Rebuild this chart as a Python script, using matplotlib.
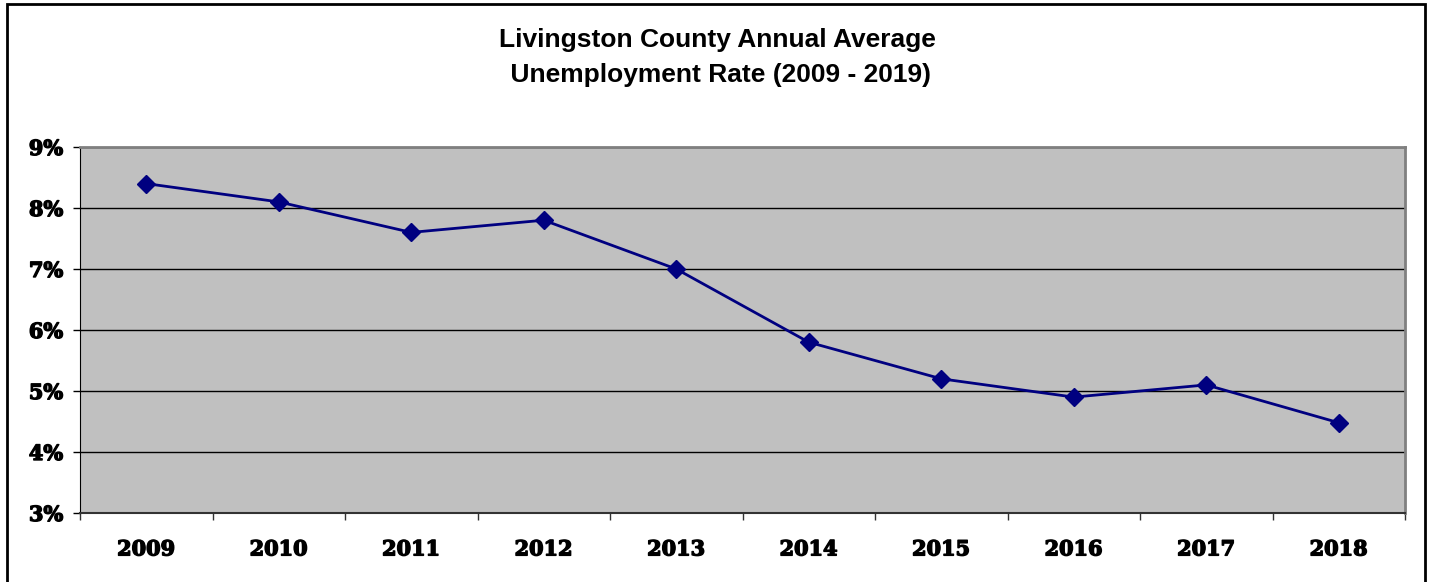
import matplotlib.pyplot as plt
import matplotlib.patheffects as pe
from matplotlib.patches import Rectangle
from matplotlib.ticker import FixedLocator, NullFormatter
import numpy as np

years = ['2009', '2010', '2011', '2012', '2013', '2014', '2015', '2016', '2017', '2018']
rates = [8.4, 8.1, 7.6, 7.8, 7.0, 5.8, 5.2, 4.9, 5.1, 4.48]
y_ticks = [3, 4, 5, 6, 7, 8, 9]
y_labels = ['3%', '4%', '5%', '6%', '7%', '8%', '9%']

W, H = 1431, 582
fig = plt.figure(figsize=(W / 100, H / 100), dpi=100)
fig.patch.set_facecolor('white')

# outer chart frame (bottom edge cut off in the original)
fig.patches.append(Rectangle((7 / W, -0.02), (1425 - 7) / W, 1.02 - 4 / H,
                             transform=fig.transFigure, fill=False,
                             edgecolor='black', linewidth=2))

ax = fig.add_axes([80 / W, (H - 513) / H, (1405 - 80) / W, (513 - 147) / H])
ax.set_facecolor('#C0C0C0')

x = np.arange(len(years))
ax.plot(x, rates, color='#000080', linewidth=2, marker='D', markersize=9,
        markerfacecolor='#000080', markeredgecolor='#000080', zorder=3)

ax.set_xlim(-0.5, len(years) - 0.5)
ax.set_ylim(3, 9)
ax.set_yticks(y_ticks)
ax.set_yticklabels(y_labels)
ax.yaxis.grid(True, color='black', linewidth=1)
ax.set_axisbelow(True)

# category labels centered, tick marks at boundaries
ax.set_xticks(x)
ax.set_xticklabels(years)
ax.tick_params(axis='x', which='major', length=0, pad=19)
ax.xaxis.set_minor_locator(FixedLocator(np.arange(-0.5, len(years), 1)))
ax.xaxis.set_minor_formatter(NullFormatter())
ax.tick_params(axis='x', which='minor', length=5, width=1, direction='out', color='#333333')
ax.tick_params(axis='y', length=5, width=1, direction='out', pad=7)

heavy = [pe.withStroke(linewidth=1.0, foreground='black')]
for lab in ax.get_xticklabels() + ax.get_yticklabels():
    lab.set_fontfamily('DejaVu Serif')
    lab.set_fontweight('bold')
    lab.set_fontsize(15)
    lab.set_path_effects(heavy)

ax.spines['left'].set_color('black')
ax.spines['bottom'].set_color('#333333')
ax.spines['bottom'].set_linewidth(1.5)
ax.spines['top'].set_color('#808080')
ax.spines['right'].set_color('#808080')
ax.spines['top'].set_linewidth(2)
ax.spines['right'].set_linewidth(2)

fig.text(717 / W, 1 - 57.5 / H, 'Livingston County Annual Average\n Unemployment Rate (2009 - 2019)',
         ha='center', va='center', fontsize=19, fontweight='bold',
         family='Liberation Sans', linespacing=1.6)

fig.savefig('out.png', dpi=100)
